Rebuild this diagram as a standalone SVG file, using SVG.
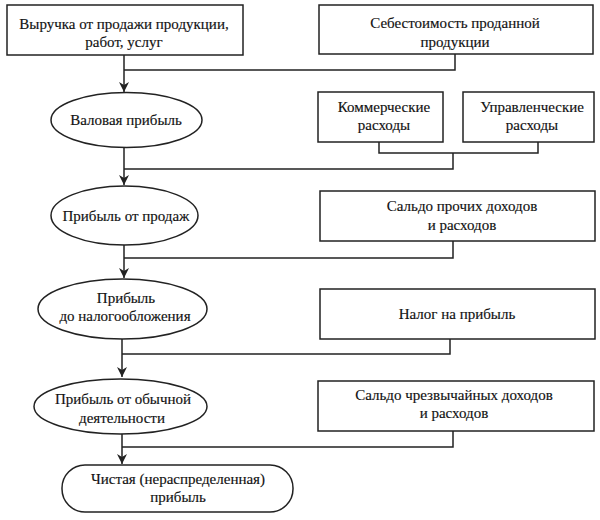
<svg xmlns="http://www.w3.org/2000/svg" width="600" height="520" viewBox="0 0 600 520">
<style>
.shape{fill:#fff;stroke:#222;stroke-width:1.5}
.line{fill:none;stroke:#222;stroke-width:1.5}
.t{font-family:'Liberation Serif','Times New Roman',serif;font-size:15px;fill:#111;stroke:#111;stroke-width:0.15;text-anchor:middle}
</style>
<defs>
<marker id="arr" viewBox="0 0 10 10" refX="10" refY="5" markerWidth="10" markerHeight="10" markerUnits="userSpaceOnUse" orient="auto">
<path d="M0,0 L10,5 L0,10 L3,5 Z" fill="#222"/>
</marker>
</defs>
<rect width="600" height="520" fill="#fff"/>
<g id="connectors">
<path class="line" d="M124,55 V92" marker-end="url(#arr)"/>
<path class="line" d="M455,54 V70 H124"/>
<path class="line" d="M124,148 V185" marker-end="url(#arr)"/>
<path class="line" d="M379,142 V153 H538 V142"/>
<path class="line" d="M453,153 V169 H124"/>
<path class="line" d="M124,245 V278" marker-end="url(#arr)"/>
<path class="line" d="M453,241 V258 H124"/>
<path class="line" d="M122,339 V377" marker-end="url(#arr)"/>
<path class="line" d="M450,339 V354 H122"/>
<path class="line" d="M122,434 V464" marker-end="url(#arr)"/>
<path class="line" d="M453,431 V447 H122"/>
</g>
<g id="revenue">
<rect class="shape" x="7" y="5" width="236" height="50"/>
<text class="t" x="124" y="29">Выручка от продажи продукции,</text>
<text class="t" x="124" y="47">работ, услуг</text>
</g>
<g id="cost">
<rect class="shape" x="319" y="5" width="274" height="49"/>
<text class="t" x="455" y="28">Себестоимость проданной</text>
<text class="t" x="455" y="47">продукции</text>
</g>
<g id="gross">
<ellipse class="shape" cx="126.5" cy="120" rx="75.5" ry="27.5"/>
<text class="t" x="126" y="125">Валовая прибыль</text>
</g>
<g id="commercial">
<rect class="shape" x="318" y="92" width="125" height="50"/>
<text class="t" x="384" y="112">Коммерческие</text>
<text class="t" x="384" y="130">расходы</text>
</g>
<g id="admin">
<rect class="shape" x="463" y="92" width="131" height="50"/>
<text class="t" x="532" y="112">Управленческие</text>
<text class="t" x="532" y="130">расходы</text>
</g>
<g id="sales">
<ellipse class="shape" cx="124.5" cy="215.5" rx="73.5" ry="29.5"/>
<text class="t" x="126" y="221">Прибыль от продаж</text>
</g>
<g id="other">
<rect class="shape" x="320" y="191" width="275" height="50"/>
<text class="t" x="462" y="211">Сальдо прочих доходов</text>
<text class="t" x="462" y="230">и расходов</text>
</g>
<g id="pretax">
<ellipse class="shape" cx="122.5" cy="309" rx="84.5" ry="30"/>
<text class="t" x="126" y="303">Прибыль</text>
<text class="t" x="125" y="321">до налогообложения</text>
</g>
<g id="tax">
<rect class="shape" x="320" y="289" width="275" height="50"/>
<text class="t" x="457" y="319">Налог на прибыль</text>
</g>
<g id="ordinary">
<ellipse class="shape" cx="120.5" cy="406.5" rx="86.5" ry="27.5"/>
<text class="t" x="123" y="404">Прибыль от обычной</text>
<text class="t" x="122" y="423">деятельности</text>
</g>
<g id="extra">
<rect class="shape" x="318" y="381" width="276" height="50"/>
<text class="t" x="454" y="400">Сальдо чрезвычайных доходов</text>
<text class="t" x="454" y="418">и расходов</text>
</g>
<g id="net">
<rect class="shape" x="62" y="465" width="231" height="47" rx="23" ry="23"/>
<text class="t" x="178" y="484">Чистая (нераспределенная)</text>
<text class="t" x="178" y="502">прибыль</text>
</g>
</svg>
